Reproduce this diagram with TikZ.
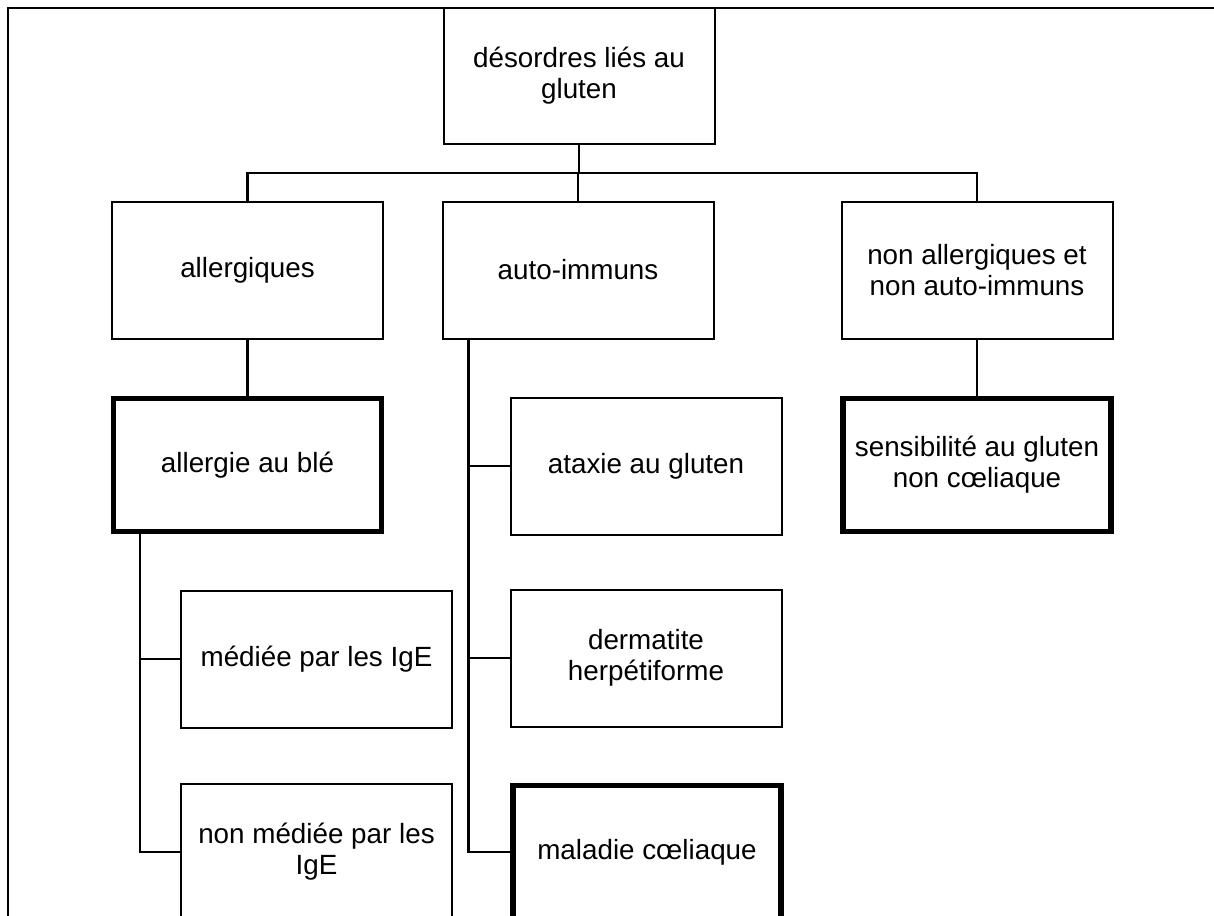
\documentclass[tikz,border=0pt]{standalone}
\usepackage{fontspec}
\setmainfont{Liberation Sans}
\begin{document}
\begin{tikzpicture}[x=1pt,y=-1pt,
  box/.style={draw=black,line width=2pt,fill=white,minimum width=271pt,minimum height=137pt,inner sep=0pt,align=center,font=\fontsize{27.8}{31}\selectfont},
  keybox/.style={box,line width=5.5pt,minimum width=268pt,minimum height=133pt},
  link/.style={draw=black,line width=2.2pt}]
\useasboundingbox (0,0) rectangle (1214,915);
\clip (0,0) rectangle (1214,915);
\fill[white] (0,0) rectangle (1214,915);
\draw[line width=2.4pt] (8,8) rectangle (1300,1000);
% nodes
\node[box,minimum height=135pt] (top) at (579,76) {désordres liés au\\gluten};
\node[box] (allerg) at (247.5,270) {allergiques};
\node[box] (auto) at (578,270) {auto-immuns};
\node[box] (nonall) at (977,270) {non allergiques et\\non auto-immuns};
\node[keybox] (ble) at (247.5,465) {allergie au blé};
\node[box] (ataxie) at (646,466) {ataxie au gluten};
\node[keybox] (sensib) at (977,465) {sensibilité au gluten\\non cœliaque};
\node[box] (mediee) at (316.5,659) {médiée par les IgE};
\node[box] (derma) at (646,658) {dermatite\\herpétiforme};
\node[box] (nonmed) at (316.5,852) {non médiée par les\\IgE};
\node[keybox] (maladie) at (647,852) {maladie cœliaque};
% connectors
\coordinate (bus) at (579,173);
\draw[link] (top.south) -- (bus);
\draw[link] (bus) -| (allerg.north);
\draw[link] (bus) -| (nonall.north);
\draw[link] (bus) -| (auto.north);
\draw[link] (allerg.south) -- (ble.north);
\draw[link] (nonall.south) -- (sensib.north);
\draw[link] ([xshift=27pt]auto.south west) |- (ataxie.west);
\draw[link] ([xshift=27pt]auto.south west) |- (derma.west);
\draw[link] ([xshift=27pt]auto.south west) |- (maladie.west);
\draw[link] ([xshift=29pt]ble.south west) |- (mediee.west);
\draw[link] ([xshift=29pt]ble.south west) |- (nonmed.west);
\end{tikzpicture}
\end{document}
